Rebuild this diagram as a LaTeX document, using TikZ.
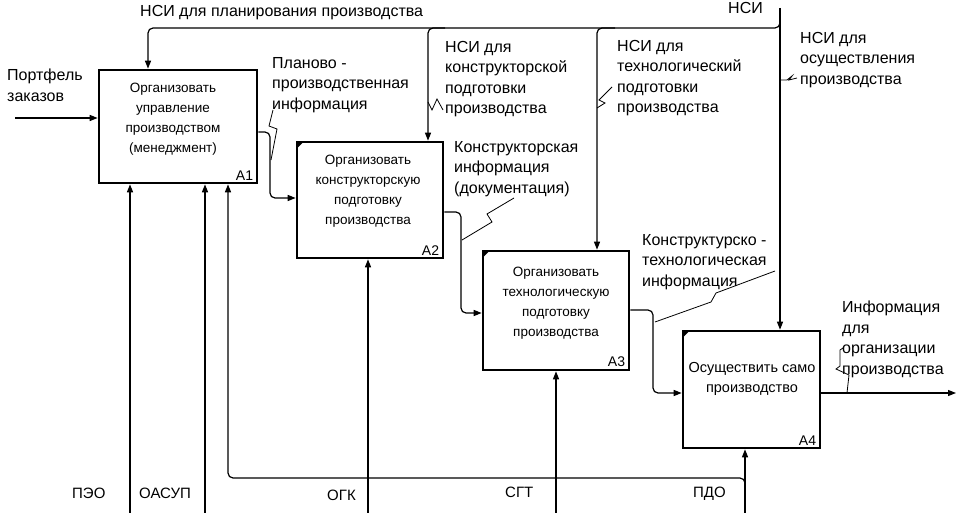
\documentclass[tikz,border=0pt]{standalone}
\usepackage{fontspec}
\setmainfont{Liberation Sans}
\usetikzlibrary{arrows.meta,calc}
\begin{document}
\begin{tikzpicture}[x=1pt,y=-1pt,
  box/.style={draw,line width=2.6pt,inner sep=0pt},
  btext/.style={font=\fontsize{13.5}{20}\selectfont,align=center,inner sep=0pt,anchor=north},
  num/.style={font=\fontsize{14}{16}\selectfont,inner sep=0pt,anchor=south east},
  lbl/.style={font=\fontsize{16}{20.5}\selectfont,align=left,inner sep=0pt,anchor=north west},
  mlbl/.style={font=\fontsize{15}{18}\selectfont,inner sep=0pt,anchor=north west},
  arr/.style={line width=1.2pt,rounded corners=5pt,-{Triangle[length=8pt,width=6pt]}},
  ln/.style={line width=1.2pt,rounded corners=5pt},
  lead/.style={line width=0.8pt,line join=miter}]
\useasboundingbox (0,0) rectangle (962,513);

% boxes
\node[box,minimum width=158pt,minimum height=113pt] (A1) at (178,126.5) {};
\node[box,minimum width=146pt,minimum height=116pt] (A2) at (370,200) {};
\node[box,minimum width=146pt,minimum height=119pt] (A3) at (556,310.5) {};
\node[box,minimum width=137pt,minimum height=117pt] (A4) at (751.5,389.5) {};
\foreach \b in {A2,A3,A4}{
  \fill ($(\b.north west)+(1,1)$) -- ++(7,0) -- ++(-7,7) -- cycle;
}

\node[btext] (A1t) at (173,83) {Организовать\\управление\\производством\\(менеджмент)};
\node[btext] (A2t) at (368,155) {Организовать\\конструкторскую\\подготовку\\производства};
\node[btext] (A3t) at (556,267) {Организовать\\технологическую\\подготовку\\производства};
\node[btext,font=\fontsize{14.5}{20}\selectfont] (A4t) at (752,362) {Осуществить само\\производство};

\node[num] (A1n) at ($(A1.south east)+(-5,-4)$) {A1};
\node[num] (A2n) at ($(A2.south east)+(-5,-4)$) {A2};
\node[num] (A3n) at ($(A3.south east)+(-5,-4)$) {A3};
\node[num] (A4n) at ($(A4.south east)+(-5,-4)$) {A4};

% labels
\node[lbl] (Lplan) at (140,5) {НСИ для планирования производства};
\node[lbl] (Lnsi) at (728,2) {НСИ};
\node[lbl] (Lport) at (7,69) {Портфель\\заказов};
\node[lbl] (Lpp) at (272,57) {Планово -\\производственная\\информация};
\node[lbl] (Lnk) at (445,41) {НСИ для\\конструкторской\\подготовки\\производства};
\node[lbl] (Lnt) at (617,40) {НСИ для\\технологический\\подготовки\\производства};
\node[lbl] (Lno) at (800,32) {НСИ для\\осуществления\\производства};
\node[lbl] (Lkd) at (454,141) {Конструкторская\\информация\\(документация)};
\node[lbl] (Lkt) at (642,234) {Конструктурско -\\технологическая\\информация};
\node[lbl] (Linf) at (842,301) {Информация\\для\\организации\\производства};
\node[mlbl] (Lpeo) at (72,488) {ПЭО};
\node[mlbl] (Loa) at (139,488) {ОАСУП};
\node[mlbl] (Logk) at (327,490) {ОГК};
\node[mlbl] (Lsgt) at (505,487) {СГТ};
\node[mlbl] (Lpdo) at (693,487) {ПДО};

% free ends and bends
\coordinate (pin) at (15,118);
\coordinate (nsitop) at (780,8);
\coordinate (pout) at (956,393);
\coordinate (mPEO) at (130,513);
\coordinate (mOA) at (205,513);
\coordinate (mOGK) at (368,513);
\coordinate (mSGT) at (556,513);
\coordinate (mPDO) at (745,513);

% inputs
\draw[arr] (pin) -- (pin -| A1.west);
% controls
\draw[arr] (nsitop) -- (nsitop |- A4.north);
\draw[arr] (780,20) -- (780,28) -- (148,28) -- (148,28 |- A1.north);
\draw[arr] (445,28) -- (428,28) -- (428,28 |- A2.north);
\draw[arr] (615,28) -- (597,28) -- (597,28 |- A3.north);
% outputs
\draw[arr] (A1.east |- 0,132) -- (270,132) -- (270,198) -- (A2.west |- 0,198);
\draw[arr] (A2.east |- 0,212) -- (461,212) -- (461,313) -- (A3.west |- 0,313);
\draw[arr] (A3.east |- 0,310) -- (653,310) -- (653,393) -- (A4.west |- 0,393);
\draw[arr] (A4.east |- pout) -- (pout);
% mechanisms
\draw[arr] (mPEO) -- (mPEO |- A1.south);
\draw[arr] (mOA) -- (mOA |- A1.south);
\draw[arr] (mOGK) -- (mOGK |- A2.south);
\draw[arr] (mSGT) -- (mSGT |- A3.south);
\draw[arr] (mPDO) -- (mPDO |- A4.south);
\draw[arr] (745,490) -- (745,478) -- (228,478) -- (228,478 |- A1.south);

% leaders (squiggles)
\draw[lead] (273,110) -- (269,126) -- (277,129) -- (271,160);
\draw[lead] (428,102) -- (432,110) -- (437,99) -- (443,110);
\draw[lead] (597,108) -- (605,103) -- (599,100) -- (612,87);
\draw[lead] (781,80) -- (787,80) -- (792,76) -- (789,80) -- (797,78);
\draw[lead] (514,198) -- (487,214) -- (492,222) -- (462,240);
\draw[lead] (775,271) -- (716,293) -- (711,302) -- (655,322);
\draw[lead] (843,348) -- (840,350) -- (840,366) -- (836,369) -- (849,375) -- (847,393);
\end{tikzpicture}
\end{document}
